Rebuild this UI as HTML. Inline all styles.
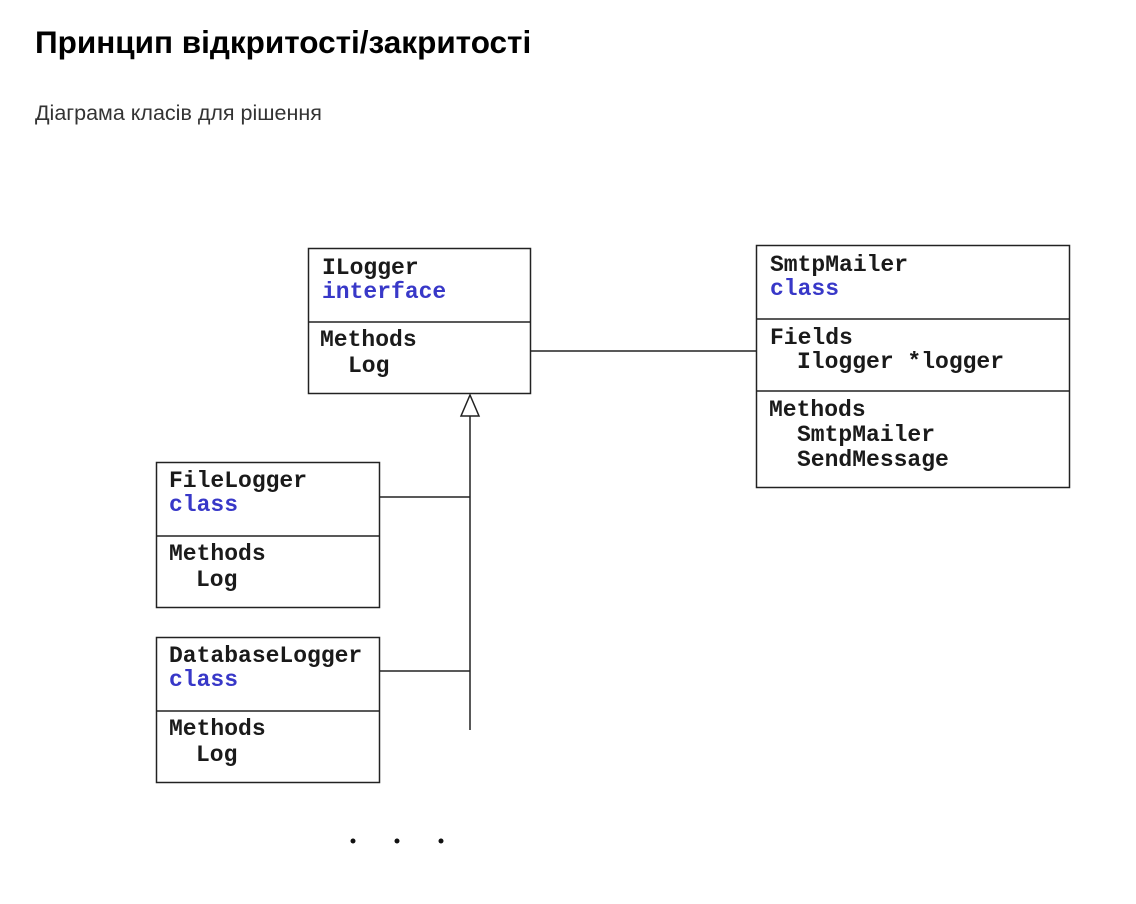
<!DOCTYPE html>
<html><head><meta charset="utf-8"><style>
body{margin:0;background:#fff;width:1136px;height:904px;overflow:hidden}
svg{display:block}
.t{font-family:"Liberation Mono",monospace;font-weight:bold;font-size:23px;fill:#1a1a1a}
.b{fill:#3838c8}
</style></head><body>
<svg width="1136" height="904" xmlns="http://www.w3.org/2000/svg">
<text x="35" y="53" font-family="Liberation Sans, sans-serif" font-weight="bold" font-size="31.5" fill="#000">Принцип відкритості/закритості</text>
<text x="35" y="120" font-family="Liberation Sans, sans-serif" font-size="21.5" fill="#333">Діаграма класів для рішення</text>
<g fill="none" stroke="#222" stroke-width="1.5">
<rect x="308.5" y="248.5" width="222" height="145"/><line x1="308" y1="322" x2="531" y2="322"/>
<rect x="756.5" y="245.5" width="313" height="242"/><line x1="756" y1="319" x2="1070" y2="319"/><line x1="756" y1="391" x2="1070" y2="391"/>
<rect x="156.5" y="462.5" width="223" height="145"/><line x1="156" y1="536" x2="380" y2="536"/>
<rect x="156.5" y="637.5" width="223" height="145"/><line x1="156" y1="711" x2="380" y2="711"/>
<line x1="531" y1="351" x2="756" y2="351"/>
<line x1="470" y1="416" x2="470" y2="730"/>
<line x1="380" y1="497" x2="470" y2="497"/>
<line x1="380" y1="671" x2="470" y2="671"/>
<polygon points="470,395 461,416 479,416" fill="#fff"/>
</g>
<text class="t" x="322" y="274">ILogger</text><text class="t b" x="322" y="298">interface</text>
<text class="t" x="320" y="346">Methods</text><text class="t" x="348" y="372">Log</text>
<text class="t" x="770" y="271">SmtpMailer</text><text class="t b" x="770" y="295">class</text>
<text class="t" x="770" y="344">Fields</text><text class="t" x="797" y="368">Ilogger *logger</text>
<text class="t" x="769" y="416">Methods</text><text class="t" x="797" y="441">SmtpMailer</text><text class="t" x="797" y="466">SendMessage</text>
<text class="t" x="169" y="487">FileLogger</text><text class="t b" x="169" y="511">class</text>
<text class="t" x="169" y="560">Methods</text><text class="t" x="196" y="586">Log</text>
<text class="t" x="169" y="662">DatabaseLogger</text><text class="t b" x="169" y="686">class</text>
<text class="t" x="169" y="735">Methods</text><text class="t" x="196" y="761">Log</text>
<circle cx="353" cy="841" r="2.5" fill="#111"/><circle cx="397" cy="841" r="2.5" fill="#111"/><circle cx="441" cy="841" r="2.5" fill="#111"/>
</svg>
</body></html>
